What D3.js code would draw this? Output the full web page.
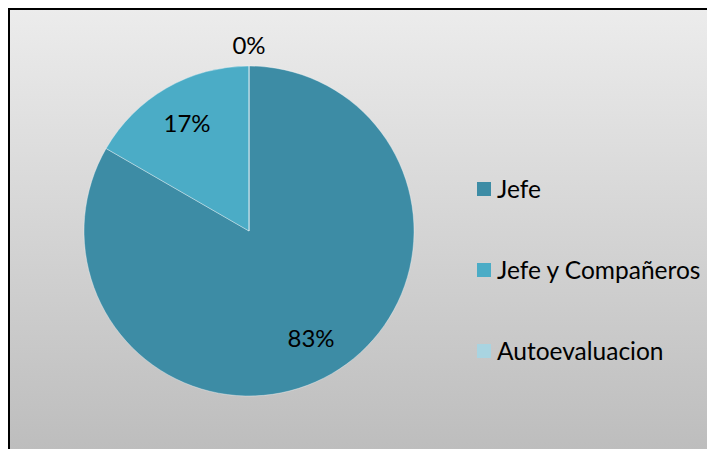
<!DOCTYPE html>
<html>
<head>
<meta charset="utf-8">
<script src="https://cdn.jsdelivr.net/npm/d3@7"></script>
<style>
  html, body { margin: 0; padding: 0; background: #ffffff; }
  svg { display: block; }
  text { font-family: Lato, "Open Sans", sans-serif; fill: #000; }
</style>
</head>
<body>
<svg id="chart" width="707" height="449"></svg>
<script>
// Survey answers: who carries out the evaluation
const categories = ["Jefe", "Jefe y Compañeros", "Autoevaluacion"];
const counts = [5, 1, 0];
const percentLabels = ["83%", "17%", "0%"];
const colors = ["#3d8ca5", "#4bacc6", "#a9d4e1"];

const W = 707, H = 449;
const svg = d3.select("#chart");

// background panel with vertical gray gradient
const defs = svg.append("defs");
const grad = defs.append("linearGradient")
  .attr("id", "bg").attr("x1", 0).attr("y1", 0).attr("x2", 0).attr("y2", 1);
grad.append("stop").attr("offset", "0%").attr("stop-color", "#ececec");
grad.append("stop").attr("offset", "100%").attr("stop-color", "#bbbbbb");

svg.append("rect")
  .attr("x", 9).attr("y", 9)
  .attr("width", 720).attr("height", 460)
  .attr("fill", "url(#bg)")
  .attr("stroke", "#000").attr("stroke-width", 2);

// pie
const cx = 249, cy = 231, R = 165;
const data = categories.map((c, i) => ({ name: c, value: counts[i], label: percentLabels[i], color: colors[i] }));

const pie = d3.pie().value(d => d.value).sort(null);
const arcs = pie(data);
const arc = d3.arc().innerRadius(0).outerRadius(R);
const inLabel = d3.arc().innerRadius(124).outerRadius(124);
const outLabel = d3.arc().innerRadius(R + 21).outerRadius(R + 21);

const g = svg.append("g").attr("transform", `translate(${cx},${cy})`);
g.selectAll("path.slice")
  .data(arcs)
  .join("path")
  .attr("class", "slice")
  .attr("d", arc)
  .attr("fill", d => d.data.color)
  .attr("stroke", "rgba(255,255,255,0.35)")
  .attr("stroke-width", 1);

g.selectAll("text.pct")
  .data(arcs)
  .join("text")
  .attr("class", "pct")
  .attr("transform", d => `translate(${(d.endAngle - d.startAngle) > 0 ? inLabel.centroid(d) : outLabel.centroid(d)})`)
  .attr("text-anchor", "middle")
  .attr("dy", "0.36em")
  .attr("font-size", 24)
  .text(d => d.data.label);

// legend
const legendY = d3.scalePoint().domain(categories).range([189, 351]);
const lg = svg.append("g");
const items = lg.selectAll("g.item")
  .data(data)
  .join("g")
  .attr("class", "item")
  .attr("transform", d => `translate(477,${legendY(d.name)})`);
items.append("rect")
  .attr("x", 0).attr("y", -7)
  .attr("width", 14).attr("height", 14)
  .attr("fill", d => d.color);
items.append("text")
  .attr("x", 20).attr("y", 0)
  .attr("dy", "0.36em")
  .attr("font-size", 24.5)
  .text(d => d.name);
</script>
</body>
</html>
